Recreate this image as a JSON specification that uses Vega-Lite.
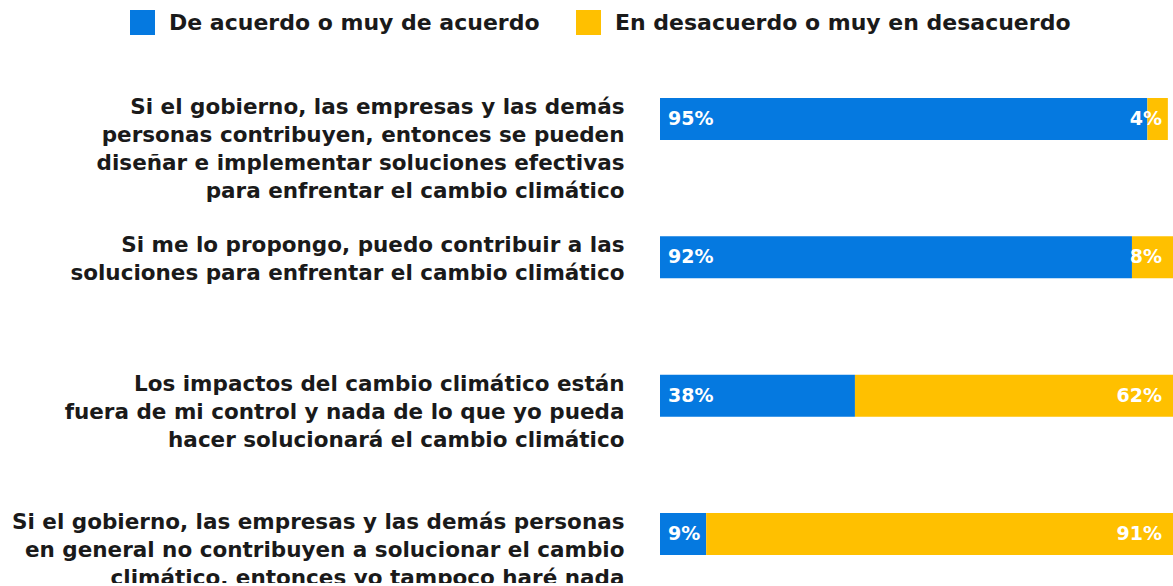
{
  "$schema": "https://vega.github.io/schema/vega-lite/v6.json",
  "autosize": {"type": "none"},
  "padding": {"left": 660, "top": 70, "right": 0, "bottom": 0},
  "width": 513,
  "height": 513,
  "background": "white",
  "config": {
    "view": {"stroke": null},
    "font": "DejaVu Sans"
  },
  "data": {
    "values": [
      {"afirmacion": "Si el gobierno, las empresas y las demás\npersonas contribuyen, entonces se pueden\ndiseñar e implementar soluciones efectivas\npara enfrentar el cambio climático", "respuesta": "De acuerdo o muy de acuerdo", "valor": 95},
      {"afirmacion": "Si el gobierno, las empresas y las demás\npersonas contribuyen, entonces se pueden\ndiseñar e implementar soluciones efectivas\npara enfrentar el cambio climático", "respuesta": "En desacuerdo o muy en desacuerdo", "valor": 4},
      {"afirmacion": "Si me lo propongo, puedo contribuir a las\nsoluciones para enfrentar el cambio climático", "respuesta": "De acuerdo o muy de acuerdo", "valor": 92},
      {"afirmacion": "Si me lo propongo, puedo contribuir a las\nsoluciones para enfrentar el cambio climático", "respuesta": "En desacuerdo o muy en desacuerdo", "valor": 8},
      {"afirmacion": "Los impactos del cambio climático están\nfuera de mi control y nada de lo que yo pueda\nhacer solucionará el cambio climático", "respuesta": "De acuerdo o muy de acuerdo", "valor": 38},
      {"afirmacion": "Los impactos del cambio climático están\nfuera de mi control y nada de lo que yo pueda\nhacer solucionará el cambio climático", "respuesta": "En desacuerdo o muy en desacuerdo", "valor": 62},
      {"afirmacion": "Si el gobierno, las empresas y las demás personas\nen general no contribuyen a solucionar el cambio\nclimático, entonces yo tampoco haré nada", "respuesta": "De acuerdo o muy de acuerdo", "valor": 9},
      {"afirmacion": "Si el gobierno, las empresas y las demás personas\nen general no contribuyen a solucionar el cambio\nclimático, entonces yo tampoco haré nada", "respuesta": "En desacuerdo o muy en desacuerdo", "valor": 91}
    ]
  },
  "transform": [{"calculate": "datum.valor + '%'", "as": "etiqueta"}],
  "encoding": {
    "y": {
      "field": "afirmacion",
      "type": "nominal",
      "sort": null,
      "scale": {"paddingInner": 0.696, "paddingOuter": 0.2025},
      "axis": {
        "title": null,
        "domain": false,
        "ticks": false,
        "labelExpr": "split(datum.label, '\\n')",
        "labelBaseline": "top",
        "labelAlign": "right",
        "labelPadding": 36,
        "labelOffset": -22,
        "labelLimit": 0,
        "labelFontSize": 21.5,
        "labelFontWeight": "bold",
        "labelLineHeight": 28,
        "labelColor": "#1a1a1a",
        "labelFont": "DejaVu Sans"
      }
    }
  },
  "layer": [
    {
      "mark": {"type": "bar"},
      "encoding": {
        "x": {"field": "valor", "type": "quantitative", "stack": "zero", "scale": {"domain": [0, 100]}, "axis": null},
        "color": {
          "field": "respuesta",
          "type": "nominal",
          "scale": {"domain": ["De acuerdo o muy de acuerdo", "En desacuerdo o muy en desacuerdo"], "range": ["#0579E0", "#FFC000"]},
          "legend": {
            "title": null,
            "orient": "none",
            "direction": "horizontal",
            "legendX": -530,
            "legendY": -60,
            "padding": 0,
            "symbolType": "square",
            "symbolSize": 625,
            "symbolStrokeWidth": 0,
            "symbolOpacity": 1,
            "labelOffset": 14,
            "columnPadding": 36,
            "labelFontSize": 22,
            "labelFontWeight": "bold",
            "labelColor": "#1a1a1a",
            "labelFont": "DejaVu Sans",
            "labelLimit": 0
          }
        },
        "order": {"field": "respuesta", "sort": "ascending"}
      }
    },
    {
      "transform": [{"filter": "datum.respuesta == 'De acuerdo o muy de acuerdo'"}],
      "mark": {"type": "text", "align": "left", "baseline": "middle", "dx": 8, "fontSize": 19, "fontWeight": "bold", "color": "white", "font": "DejaVu Sans"},
      "encoding": {
        "x": {"datum": 0, "type": "quantitative"},
        "text": {"field": "etiqueta", "type": "nominal"}
      }
    },
    {
      "transform": [{"filter": "datum.respuesta == 'En desacuerdo o muy en desacuerdo'"}],
      "mark": {"type": "text", "align": "right", "baseline": "middle", "dx": -11, "fontSize": 19, "fontWeight": "bold", "color": "white", "font": "DejaVu Sans"},
      "encoding": {
        "x": {"datum": 100, "type": "quantitative"},
        "text": {"field": "etiqueta", "type": "nominal"}
      }
    }
  ]
}
